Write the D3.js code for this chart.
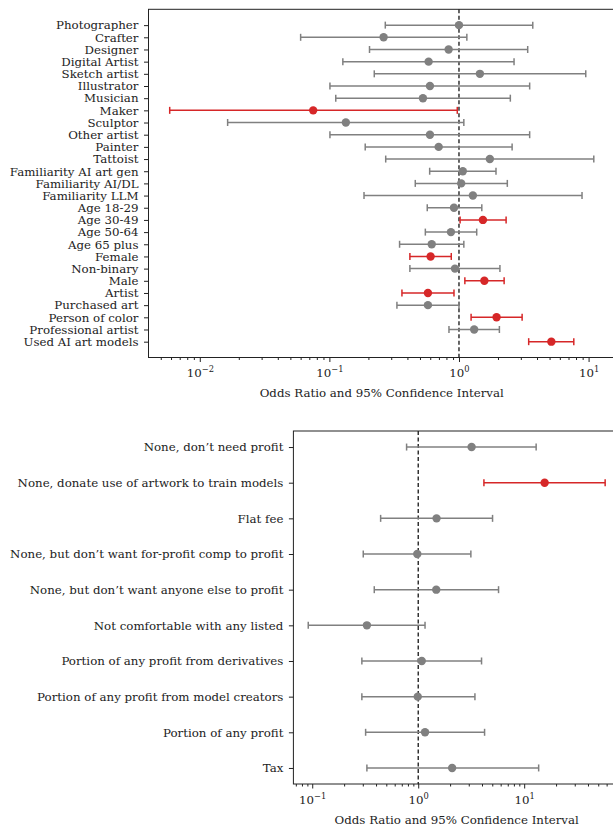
<!DOCTYPE html>
<html>
<head>
<meta charset="utf-8">
<script src="https://cdn.jsdelivr.net/npm/d3@7"></script>
<style>
  body { margin: 0; background: #fff; }
  svg { font-family: "DejaVu Serif", serif; }
</style>
</head>
<body>
<svg id="chart" width="613" height="827"></svg>
<script>
// 1: DATA
const topLabels = ["Photographer", "Crafter", "Designer", "Digital Artist", "Sketch artist",
  "Illustrator", "Musician", "Maker", "Sculptor", "Other artist", "Painter", "Tattoist",
  "Familiarity AI art gen", "Familiarity AI/DL", "Familiarity LLM", "Age 18-29", "Age 30-49",
  "Age 50-64", "Age 65 plus", "Female", "Non-binary", "Male", "Artist", "Purchased art",
  "Person of color", "Professional artist", "Used AI art models"];
const topOR = [1.0, 0.262, 0.832, 0.583, 1.45, 0.597, 0.527, 0.075, 0.134, 0.597, 0.697, 1.73,
  1.07, 1.04, 1.28, 0.915, 1.53, 0.867, 0.616, 0.604, 0.931, 1.57, 0.576, 0.576, 1.95, 1.31, 5.16];
const topLo = [0.27, 0.06, 0.204, 0.127, 0.222, 0.101, 0.112, 0.00586, 0.0164, 0.101, 0.189, 0.272,
  0.594, 0.46, 0.185, 0.569, 1.02, 0.55, 0.348, 0.418, 0.418, 1.11, 0.363, 0.332, 1.24, 0.837, 3.45];
const topHi = [3.71, 1.15, 3.39, 2.66, 9.51, 3.51, 2.49, 0.97, 1.09, 3.51, 2.57, 10.97,
  1.93, 2.36, 8.9, 1.50, 2.31, 1.37, 1.09, 0.872, 2.07, 2.23, 0.915, 1.0, 3.07, 2.05, 7.69];
const topSig = [0, 0, 0, 0, 0, 0, 0, 1, 0, 0, 0, 0, 0, 0, 0, 0, 1, 0, 0, 1, 0, 1, 1, 0, 1, 0, 1];

const botLabels = ["None, don\u2019t need profit", "None, donate use of artwork to train models",
  "Flat fee", "None, but don\u2019t want for-profit comp to profit",
  "None, but don\u2019t want anyone else to profit", "Not comfortable with any listed",
  "Portion of any profit from derivatives", "Portion of any profit from model creators",
  "Portion of any profit", "Tax"];
const botOR = [3.19, 15.6, 1.49, 0.98, 1.48, 0.328, 1.08, 0.99, 1.16, 2.09];
const botLo = [0.777, 4.17, 0.442, 0.303, 0.385, 0.0917, 0.294, 0.294, 0.319, 0.328];
const botHi = [12.97, 58.1, 5.03, 3.14, 5.73, 1.16, 3.96, 3.43, 4.23, 13.7];
const botSig = [0, 1, 0, 0, 0, 0, 0, 0, 0, 0];

const xTitle = "Odds Ratio and 95% Confidence Interval";
const supers = { "-2": "\u22122", "-1": "\u22121", "0": "0", "1": "1" };

const GRAY = "#808080", RED = "#d62728", INK = "#222";
const FS = 11.8;
const svg = d3.select("#chart");

// 2: ONE FOREST PANEL
function forest(box, labels, or, lo, hi, sig) {
  const n = labels.length;
  const g = svg.append("g");

  // log x with 5% padding in log space, like matplotlib
  const ext = [d3.min(lo), d3.max(hi)].map(Math.log10);
  const pad = (ext[1] - ext[0]) * 0.05;
  const x = d3.scaleLog()
    .domain([10 ** (ext[0] - pad), 10 ** (ext[1] + pad)])
    .range([box.left, box.right]);
  const y = d3.scaleLinear()
    .domain([-(n - 1) * 0.05, (n - 1) * 1.05])
    .range([box.top, box.bottom]);

  // reference line at OR = 1
  g.append("line")
    .attr("x1", x(1)).attr("x2", x(1))
    .attr("y1", box.top).attr("y2", box.bottom)
    .attr("stroke", "#000").attr("stroke-width", 1.2)
    .attr("stroke-dasharray", "4,2.5");

  // error bars
  const rows = labels.map((d, i) => ({ i, or: or[i], lo: lo[i], hi: hi[i], c: sig[i] ? RED : GRAY }));
  const bars = g.selectAll(".bar").data(rows).enter().append("g");
  bars.append("line")
    .attr("x1", d => x(d.lo)).attr("x2", d => x(d.hi))
    .attr("y1", d => y(d.i)).attr("y2", d => y(d.i))
    .attr("stroke", d => d.c).attr("stroke-width", 1.5);
  ["lo", "hi"].forEach(k => {
    bars.append("line")
      .attr("x1", d => x(d[k])).attr("x2", d => x(d[k]))
      .attr("y1", d => y(d.i) - 3.5).attr("y2", d => y(d.i) + 3.5)
      .attr("stroke", d => d.c).attr("stroke-width", 1.5);
  });
  bars.append("circle")
    .attr("cx", d => x(d.or)).attr("cy", d => y(d.i))
    .attr("r", 4.2).attr("fill", d => d.c);

  // y axis
  const yAx = g.append("g")
    .attr("transform", `translate(${box.left},0)`)
    .call(d3.axisLeft(y).tickValues(d3.range(n)).tickFormat(i => labels[i]).tickSize(4.5).tickPadding(5.5));
  yAx.select(".domain").remove();
  yAx.selectAll("text").attr("font-size", FS).attr("fill", INK).attr("font-family", "DejaVu Serif");
  yAx.selectAll("line").attr("stroke", INK);

  // x axis: major + minor ticks
  const [d0, d1] = x.domain().map(v => Math.floor(Math.log10(v)));
  const majors = d3.range(d0, d1 + 2).map(e => 10 ** e).filter(v => v >= x.domain()[0] && v <= x.domain()[1]);
  const minors = [];
  d3.range(d0, d1 + 1).forEach(e => d3.range(2, 10).forEach(m => {
    const v = m * 10 ** e;
    if (v >= x.domain()[0] && v <= x.domain()[1]) minors.push(v);
  }));
  const xMin = g.append("g")
    .attr("transform", `translate(0,${box.bottom})`)
    .call(d3.axisBottom(x).tickValues(minors).tickFormat("").tickSize(2.5));
  xMin.select(".domain").remove();
  xMin.selectAll("line").attr("stroke", INK);

  const xAx = g.append("g")
    .attr("transform", `translate(0,${box.bottom})`)
    .call(d3.axisBottom(x).tickValues(majors).tickSize(4.5).tickPadding(7));
  xAx.select(".domain").remove();
  xAx.selectAll("line").attr("stroke", INK);
  xAx.selectAll("text")
    .attr("font-size", FS).attr("fill", INK).attr("font-family", "DejaVu Serif")
    .text("")
    .each(function(v) {
      const e = Math.round(Math.log10(v));
      const t = d3.select(this);
      t.append("tspan").text("10");
      t.append("tspan").attr("dy", -5).attr("font-size", 8.3).text(supers[e]);
    });

  // spines
  g.append("rect")
    .attr("x", box.left).attr("y", box.top)
    .attr("width", box.right - box.left).attr("height", box.bottom - box.top)
    .attr("fill", "none").attr("stroke", INK).attr("stroke-width", 1);

  // x title
  g.append("text")
    .attr("x", (box.left + box.right) / 2)
    .attr("y", box.bottom + 39.5)
    .attr("text-anchor", "middle")
    .attr("font-size", FS).attr("fill", INK)
    .text(xTitle);
}

// 3: DRAW BOTH PANELS
forest({ left: 148.5, right: 615, top: 9.3, bottom: 357.5 }, topLabels, topOR, topLo, topHi, topSig);
forest({ left: 293.4, right: 620, top: 431, bottom: 784 }, botLabels, botOR, botLo, botHi, botSig);
</script>
</body>
</html>
